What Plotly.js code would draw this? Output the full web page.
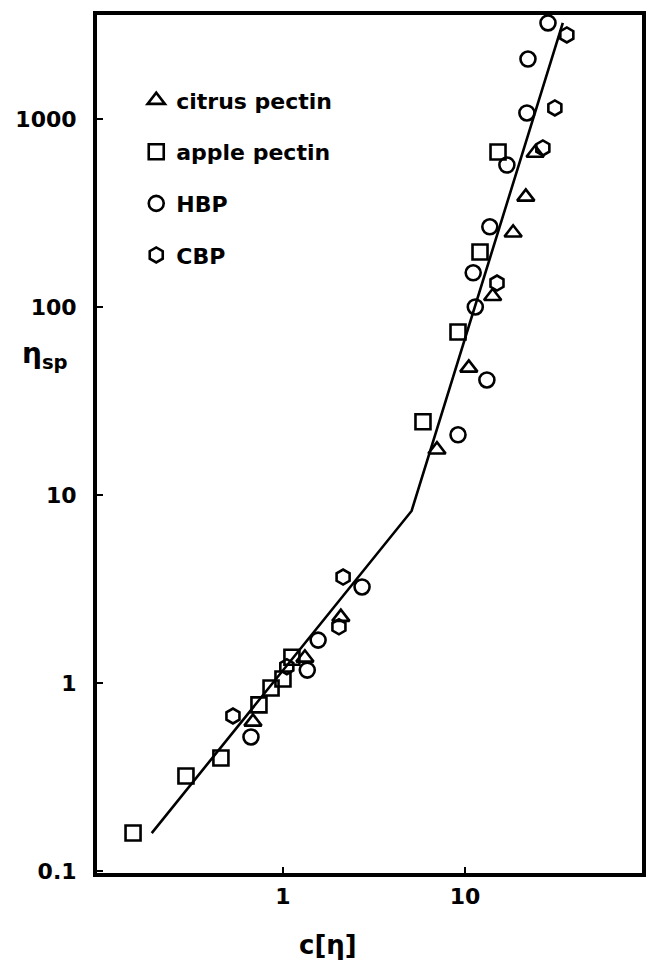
<!DOCTYPE html>
<html>
<head>
<meta charset="utf-8">
<script src="https://cdn.plot.ly/plotly-3.0.1.min.js"></script>
<style>html,body{margin:0;padding:0;background:#fff;}#chart{width:648px;height:973px;}</style>
</head>
<body>
<div id="chart"></div>
<script>
// ---- data (c[eta] vs eta_sp, log-log) ----
const citrusX = [0.684, 1.32, 2.08, 7.02, 10.5, 14.2, 18.4, 21.6, 24.3];
const citrusY = [0.621, 1.36, 2.24, 17.4, 47.4, 114, 248, 385, 659];

const appleX = [0.150, 0.293, 0.456, 0.738, 0.86, 1.0, 1.12, 5.88, 9.16, 12.1, 15.2];
const appleY = [0.159, 0.320, 0.399, 0.764, 0.94, 1.05, 1.37, 24.5, 73.6, 196, 667];

const hbpX = [0.667, 1.36, 1.56, 2.72, 9.16, 13.2, 11.4, 11.1, 13.7, 17.0, 21.9, 22.2, 28.6];
const hbpY = [0.516, 1.17, 1.69, 3.24, 20.9, 40.9, 100, 152, 267, 569, 1076, 2084, 3243];

const cbpX = [0.531, 1.05, 2.03, 2.14, 15.0, 26.8, 31.2, 36.3];
const cbpY = [0.667, 1.22, 1.99, 3.66, 134, 701, 1144, 2799];

const fitX = [0.19, 5.09, 34.5];
const fitY = [0.159, 8.22, 3240];

const xTickVals = [1, 10];
const xTickText = ['1', '10'];
const yTickVals = [0.1, 1, 10, 100, 1000];
const yTickText = ['0.1', '1', '10', '100', '1000'];

const seriesNames = ['citrus pectin', 'apple pectin', 'HBP', 'CBP'];

// ---- styling ----
const FONT = 'DejaVu Sans, Liberation Sans, Arial, sans-serif';
function markerTrace(x, y, name, symbol, grp) {
  return {
    x: x, y: y, name: name, type: 'scatter', mode: 'markers',
    legendgroup: grp,
    marker: {symbol: symbol, size: 15, color: '#000',
             line: {color: '#000', width: 2.6}},
    cliponaxis: false
  };
}

const traces = [
  {x: fitX, y: fitY, type: 'scatter', mode: 'lines', showlegend: false,
   line: {color: '#000', width: 2.6}, hoverinfo: 'skip'},
  markerTrace(citrusX, citrusY, seriesNames[0], 'triangle-up-open', 'g1'),
  markerTrace(appleX, appleY, seriesNames[1], 'square-open', 'g2'),
  markerTrace(hbpX, hbpY, seriesNames[2], 'circle-open', 'g3'),
  markerTrace(cbpX, cbpY, seriesNames[3], 'hexagon-open', 'g4')
];

const axisCommon = {
  type: 'log', showgrid: false, zeroline: false,
  showline: true, linecolor: '#000', linewidth: 4, mirror: true,
  ticks: 'inside', ticklen: 6, tickwidth: 2, tickcolor: '#000',
  tickfont: {family: FONT, size: 22, color: '#000', weight: 'bold'}
};

const layout = {
  width: 648, height: 973,
  margin: {l: 97, r: 6, t: 15, b: 100},
  paper_bgcolor: '#fff', plot_bgcolor: '#fff',
  font: {family: FONT, color: '#000'},
  showlegend: true,
  legend: {
    x: 0.072, y: 0.925, xanchor: 'left', yanchor: 'top',
    bgcolor: 'rgba(0,0,0,0)', borderwidth: 0,
    tracegroupgap: 20,
    font: {family: FONT, size: 22, color: '#000', weight: 'bold'}
  },
  xaxis: Object.assign({}, axisCommon, {
    range: [-1.022, 1.973],
    tickmode: 'array', tickvals: xTickVals, ticktext: xTickText,
    ticklabelstandoff: 1
  }),
  yaxis: Object.assign({}, axisCommon, {
    range: [-1.011, 3.553],
    tickmode: 'array', tickvals: yTickVals, ticktext: yTickText,
    ticklabelstandoff: 12
  }),
  annotations: [
    {text: 'c[η]', xref: 'paper', yref: 'paper',
     x: (328 - 97) / 545, y: -(945 - 873) / 858, xanchor: 'center', yanchor: 'middle',
     showarrow: false, font: {family: FONT, size: 26, color: '#000', weight: 'bold'}},
    {text: 'η<sub>sp</sub>', xref: 'paper', yref: 'paper',
     x: -(97 - 45) / 545, y: (873 - 355) / 858, xanchor: 'center', yanchor: 'middle',
     showarrow: false, font: {family: FONT, size: 28, color: '#000', weight: 'bold'}}
  ]
};

Plotly.newPlot('chart', traces, layout, {displayModeBar: false, staticPlot: true});
</script>
</body>
</html>
